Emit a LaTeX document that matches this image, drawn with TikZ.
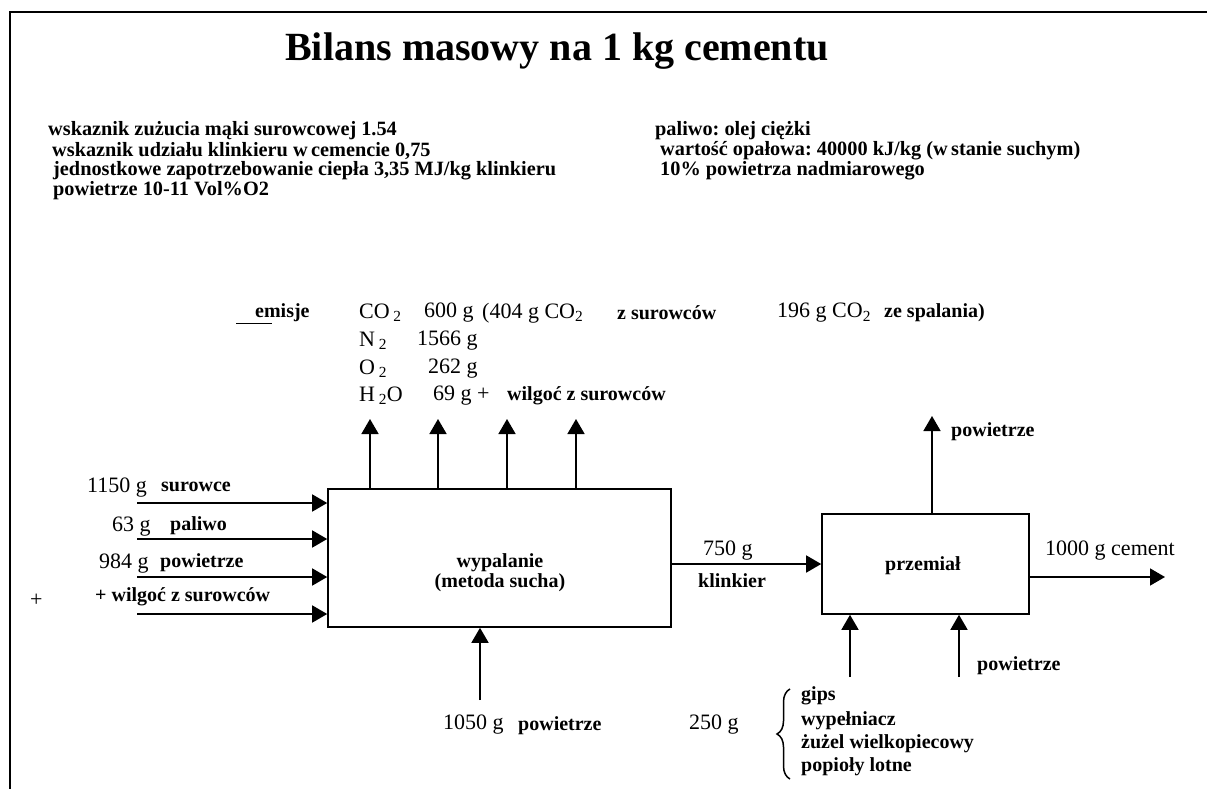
\documentclass[tikz,border=0pt]{standalone}
\usepackage{fontspec}
\setmainfont{Liberation Serif}
\usetikzlibrary{arrows.meta,decorations.pathreplacing}
\begin{document}
\frenchspacing
\begin{tikzpicture}[x=1pt,y=-1pt,
  reg/.style={font=\fontsize{22}{26}\selectfont, inner sep=0pt, anchor=west},
  bld/.style={font=\fontsize{20}{24}\selectfont\bfseries, inner sep=0pt, anchor=west},
  hdr/.style={font=\fontsize{20.3}{20}\selectfont\bfseries, inner sep=0pt, anchor=west},
  box/.style={draw, line width=1.6pt, inner sep=0pt},
  lbl/.style={font=\fontsize{20}{20}\selectfont\bfseries, inner sep=0pt, align=center},
  arr/.style={line width=1.6pt, -{Triangle[length=15pt,width=17pt]}},
]
\useasboundingbox (0,0) rectangle (1207,789);
\fill[white] (0,0) rectangle (1207,789);
% frame
\draw[line width=1.5pt] (10,789) -- (10,12) -- (1207,12);

% title
\node[font=\fontsize{40}{44}\selectfont\bfseries, inner sep=0pt] (title) at (557,51) {Bilans masowy na 1 kg cementu};

% header left
\node[hdr] (h1) at (48,131) {wskaznik zużucia mąki surowcowej 1.54};
\node[hdr] (h2) at (52,151) {wskaznik udziału klinkieru w\,cemencie 0,75};
\node[hdr] (h3) at (53,171) {jednostkowe zapotrzebowanie ciepła 3,35 MJ/kg klinkieru};
\node[hdr] (h4) at (53,191) {powietrze 10-11 Vol\%O2};
% header right
\node[hdr] (r1) at (655,131) {paliwo: olej ciężki};
\node[hdr] (r2) at (660,151) {wartość opałowa: 40000 kJ/kg (w\,stanie suchym)};
\node[hdr] (r3) at (660,171) {10\% powietrza nadmiarowego};

% emissions
\node[bld] (em) at (255,313) {emisje};
\draw[line width=1pt] (236,323) -- (272,323);
\node[reg] (e1a) at (359,313) {CO\,\textsubscript{2}};
\node[reg] (e1b) at (424,313) {600 g};
\node[reg] (e1c) at (482,313) {(404 g CO\textsubscript{2}};
\node[bld] (e1d) at (617,313) {z surowców};
\node[reg] (e1e) at (777,313) {196 g CO\textsubscript{2}};
\node[bld] (e1f) at (884,313) {ze spalania)};
\node[reg] (e2a) at (359,341) {N\,\textsubscript{2}};
\node[reg] (e2b) at (417,341) {1566 g};
\node[reg] (e3a) at (359,369) {O\,\textsubscript{2}};
\node[reg] (e3b) at (428,369) {262 g};
\node[reg] (e4a) at (359,396) {H\,\textsubscript{2}O};
\node[reg] (e4b) at (433,396) {69 g +};
\node[bld] (e4c) at (507,396) {wilgoć z surowców};

% kiln
\node[box, minimum width=343pt, minimum height=138pt] (kiln) at (499.5,558) {};
\node[lbl] (kilnlbl) at (500,573) {wypalanie\\(metoda sucha)};
\coordinate (u1) at (370,419);
\coordinate (u2) at (438,419);
\coordinate (u3) at (507,419);
\coordinate (u4) at (576,419);
\foreach \u in {u1,u2,u3,u4} \draw[arr] (\u |- kiln.north) -- (\u);

% inputs
\coordinate (i1) at (137,503);
\coordinate (i2) at (137,539);
\coordinate (i3) at (137,577);
\coordinate (i4) at (137,614);
\foreach \i in {i1,i2,i3,i4} \draw[arr] (\i) -- (\i -| kiln.west);
\node[reg] (l1a) at (87,488) {1150 g};
\node[bld] (l1b) at (161,487) {surowce};
\node[reg] (l2a) at (112,527) {63 g};
\node[bld] (l2b) at (170,526) {paliwo};
\node[reg] (l3a) at (99,564) {984 g};
\node[bld] (l3b) at (160,563) {powietrze};
\node[reg] (l4a) at (30,600) {+};
\node[bld] (l4b) at (95,597) {+ wilgoć z surowców};

% bottom air kiln
\coordinate (b1) at (480,700);
\draw[arr] (b1) -- (b1 |- kiln.south);
\node[reg] (bl1) at (443,725) {1050 g};
\node[bld] (bl2) at (518,726) {powietrze};

% mill
\node[box, minimum width=207pt, minimum height=100pt] (mill) at (925.5,564) {};
\node[lbl] (milllbl) at (923,566) {przemiał};
\draw[arr] (kiln.east |- mill.west) -- (mill.west);
\node[reg] (k1) at (703,551) {750 g};
\node[bld] (k2) at (698,581) {klinkier};

\coordinate (mt) at (932,416);
\draw[arr] (mt |- mill.north) -- (mt);
\node[bld] (mtl) at (951,432) {powietrze};

\coordinate (mo) at (1165,577);
\draw[arr] (mo -| mill.east) -- (mo);
\node[reg] (mol) at (1045,551) {1000 g cement};

\coordinate (mb1) at (850,677);
\coordinate (mb2) at (959,677);
\draw[arr] (mb1) -- (mb1 |- mill.south);
\draw[arr] (mb2) -- (mb2 |- mill.south);
\node[bld] (mbl) at (977,666) {powietrze};

\node[reg] (g250) at (689,725) {250 g};
\coordinate (bb) at (790,779);
\coordinate (bt) at (790,689);
\draw[line width=1.5pt, decorate, decoration={brace, amplitude=13pt}] (bb) -- (bt);
\node[bld] (a1) at (801,696) {gips};
\node[bld] (a2) at (801,721) {wypełniacz};
\node[bld] (a3) at (801,744) {żużel wielkopiecowy};
\node[bld] (a4) at (801,767) {popioły lotne};
\end{tikzpicture}
\end{document}
